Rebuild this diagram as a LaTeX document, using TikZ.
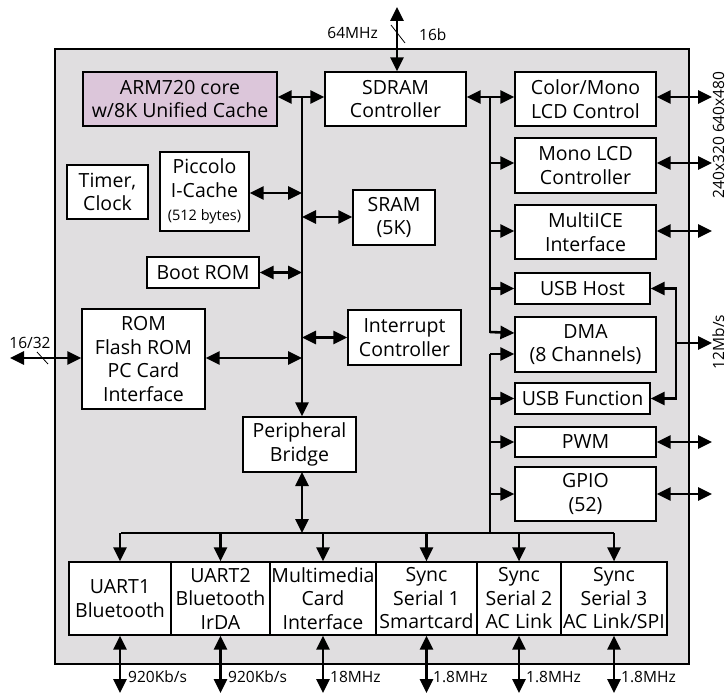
\documentclass[tikz,border=0pt]{standalone}
\usepackage{fontspec}
\setmainfont{Open Sans}
\usetikzlibrary{arrows.meta}
\definecolor{chipgray}{HTML}{E0DEE0}
\definecolor{armfill}{HTML}{DCC6DA}
\begin{document}
\begin{tikzpicture}[x=1pt,y=-1pt,
  box/.style={draw,line width=1.2pt,fill=white,align=center,inner sep=0pt,
    font=\fontsize{19.5}{23.5}\selectfont},
  lbl/.style={font=\fontsize{15.5}{17}\selectfont,inner sep=1pt},
  bus/.style={line width=2.6pt},
  arr/.style={line width=2.6pt,-{Triangle[length=14pt,width=13pt]}},
  darr/.style={line width=2.6pt,{Triangle[length=14pt,width=13pt]}-{Triangle[length=14pt,width=13pt]}},
  slash/.style={line width=0.8pt}]
\useasboundingbox (0,0) rectangle (727,695);
% chip outline
\node[draw,line width=2.6pt,fill=chipgray,minimum width=634pt,minimum height=615pt,inner sep=0pt] (chip) at (372,356.5) {};
% left column
\node[box,fill=armfill,minimum width=194pt,minimum height=54pt] (arm) at (180,99) {ARM720 core\\w/8K Unified Cache};
\node[box,minimum width=81pt,minimum height=54pt] (timer) at (107.5,192) {Timer,\\Clock};
\node[box,minimum width=89pt,minimum height=79pt] (picc) at (204.5,191.5) {Piccolo\\I-Cache\\{\fontsize{14.5}{22}\selectfont(512 bytes)}};
\node[box,minimum width=112pt,minimum height=31pt] (boot) at (203,272.5) {Boot ROM};
\node[box,minimum width=123pt,minimum height=100pt] (rom) at (143.5,359) {ROM\\Flash ROM\\PC Card\\Interface};
\node[box,minimum width=113pt,minimum height=55pt] (bridge) at (299.5,444.5) {Peripheral\\Bridge};
% middle column
\node[box,minimum width=141pt,minimum height=54pt] (sdram) at (395.5,99) {SDRAM\\Controller};
\node[box,minimum width=82pt,minimum height=55pt] (sram) at (394,217.5) {SRAM\\(5K)};
\node[box,minimum width=113pt,minimum height=55pt] (intc) at (404.5,337.5) {Interrupt\\Controller};
% right column
\node[box,minimum width=141pt,minimum height=54pt] (lcdc) at (585.5,99) {Color/Mono\\LCD Control};
\node[box,minimum width=141pt,minimum height=55pt] (lcdm) at (585.5,165.5) {Mono LCD\\Controller};
\node[box,minimum width=141pt,minimum height=54pt] (ice) at (585.5,232) {MultiICE\\Interface};
\node[box,minimum width=135pt,minimum height=31pt] (usbh) at (582.5,288.5) {USB Host};
\node[box,minimum width=141pt,minimum height=55pt] (dma) at (585.5,344.5) {DMA\\(8 Channels)};
\node[box,minimum width=135pt,minimum height=31pt] (usbf) at (582.5,398.5) {USB Function};
\node[box,minimum width=141pt,minimum height=30pt] (pwm) at (585.5,442) {PWM};
\node[box,minimum width=141pt,minimum height=54pt] (gpio) at (585.5,494) {GPIO\\(52)};
% bottom row
\node[box,minimum width=102pt,minimum height=73pt] (u1) at (120,598.5) {UART1\\Bluetooth};
\node[box,minimum width=99pt,minimum height=73pt] (u2) at (220.5,598.5) {UART2\\Bluetooth\\IrDA};
\node[box,minimum width=106pt,minimum height=73pt] (mmc) at (323,598.5) {Multimedia\\Card\\Interface};
\node[box,minimum width=101pt,minimum height=73pt] (ss1) at (426.5,598.5) {Sync\\Serial 1\\Smartcard};
\node[box,minimum width=84pt,minimum height=73pt] (ss2) at (519,598.5) {Sync\\Serial 2\\AC Link};
\node[box,minimum width=106pt,minimum height=73pt] (ss3) at (614,598.5) {Sync\\Serial 3\\AC Link/SPI};

% bus coordinates
\coordinate (mbT) at (302,97);
\coordinate (rbT) at (490,97);
\coordinate (rbL) at (490,354);
\coordinate (pbL) at (121,533);
\coordinate (pbR) at (614,533);
\coordinate (pbM) at (490,533);
\coordinate (extT) at (397,7);
\coordinate (extL) at (10,358);
\coordinate (usbx) at (676,343);
\coordinate (usbo) at (712,343);

% main system bus
\draw[darr] (arm.east |- mbT) -- (sdram.west |- mbT);
\draw[arr] (mbT) -- (mbT |- bridge.north);
\draw[darr] (picc.east |- 0,193) -- (mbT |- 0,193);
\draw[darr] (mbT |- 0,217) -- (sram.west |- 0,217);
\draw[darr] (boot.east) -- (boot.east -| mbT);
\draw[darr] (mbT |- intc.west) -- (intc.west);
\draw[darr] (rom.east |- 0,358) -- (mbT |- 0,358);
% external memory
\draw[darr] (extT) -- (extT |- sdram.north);
\draw[slash] (391,25) -- (405,43);
\node[lbl,anchor=east] (l64) at (379,33) {64MHz};
\node[lbl,anchor=west] (l16) at (418,35) {16b};
\draw[darr] (extL) -- (rom.west |- extL);
\draw[slash] (37,352) -- (48,364);
\node[lbl,anchor=south] (l1632) at (30,350) {16/32};

% right (DMA) bus
\draw[darr] (sdram.east |- rbT) -- (lcdc.west |- rbT);
\draw[bus] (rbT) -- (490,333);
\draw[arr] (rbT |- 0,163) -- (lcdm.west |- 0,163);
\draw[arr] (rbT |- 0,231) -- (ice.west |- 0,231);
\draw[arr] (rbT |- usbh.west) -- (usbh.west);
\draw[arr] (490,332) -- (dma.west |- 0,333);
\draw[arr] (rbL) -- (dma.west |- rbL);
\draw[bus] (rbL) -- (pbM);
\draw[arr] (rbL |- usbf.west) -- (usbf.west);
\draw[arr] (rbL |- pwm.west) -- (pwm.west);
\draw[arr] (rbL |- gpio.west) -- (gpio.west);

% external right
\draw[darr] (lcdc.east |- 0,97) -- (712,97);
\draw[darr] (lcdm.east |- 0,163) -- (712,163);
\draw[darr] (ice.east |- 0,231) -- (712,231);
\draw[darr] (pwm.east) -- (712,442);
\draw[darr] (gpio.east) -- (712,494);
\draw[darr] (usbh.east) -- (usbh.east -| usbx) -- (usbf.east -| usbx) -- (usbf.east);
\draw[arr] (usbx) -- (usbo);
\node[lbl,rotate=90,inner sep=0pt,anchor=south] (l12) at (724.5,342) {12Mb/s};
\node[lbl,rotate=90,inner sep=0pt,anchor=south] (llcd) at (724.5,135) {240x320 640x480};

% peripheral bus
\draw[bus] (pbL) -- (pbR);
\draw[darr] (302,472) -- (302,533);
\foreach \n in {u1,u2,mmc,ss1,ss2,ss3}{
  \draw[arr] (\n.north |- pbL) -- (\n.north);
  \draw[darr] (\n.south) -- (\n.south |- 0,693);
}
\node[lbl,anchor=west] (f1) at (127,677) {920Kb/s};
\node[lbl,anchor=west] (f2) at (227,677) {920Kb/s};
\node[lbl,anchor=west] (f3) at (329,677) {18MHz};
\node[lbl,anchor=west] (f4) at (432,677) {1.8MHz};
\node[lbl,anchor=west] (f5) at (525,677) {1.8MHz};
\node[lbl,anchor=west] (f6) at (620,677) {1.8MHz};
\end{tikzpicture}
\end{document}
